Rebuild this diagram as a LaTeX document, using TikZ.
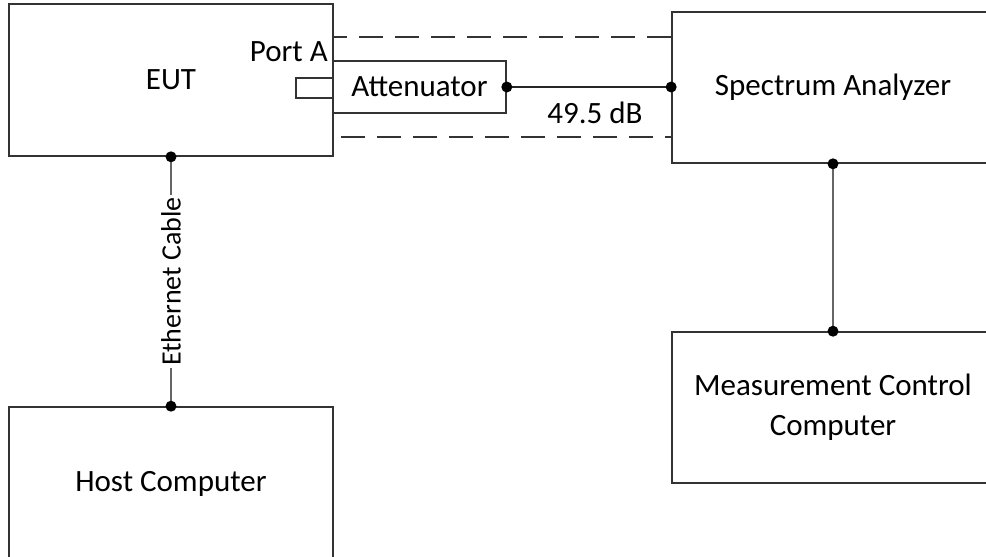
\documentclass[tikz,border=0pt]{standalone}
\usepackage{fontspec}
\setmainfont{Carlito}
\usetikzlibrary{positioning}

\begin{document}
\begin{tikzpicture}[x=1pt, y=-1pt,
		devbox/.style={rectangle, draw=black!80, line width=1.6pt, inner sep=0pt, align=center, font=\fontsize{31}{40}\selectfont},
		frame/.style={draw=black!80, line width=1.6pt},
		wire/.style={draw=black!60, line width=1.6pt},
		shield/.style={draw=black!80, line width=1.6pt, dash pattern=on 24pt off 12pt},
		lbl/.style={inner sep=0pt, font=\fontsize{31}{40}\selectfont}]
			%%%%% START %%%%%
			
			\useasboundingbox (0, 0) rectangle (986, 557);
			
			\node[devbox, minimum width=324, minimum height=152] (eut) at (171, 80) {EUT};
			% bottom runs off the page
			\draw[frame] (9, 557) -- (9, 407) -- (333, 407) -- (333, 557);
			\node[devbox, draw=none, minimum width=324, minimum height=154] (host) at (171, 484) {Host Computer};
			
			% right side runs off the page
			\draw[frame] (986, 12) -- (672, 12) -- (672, 163) -- (986, 163);
			\node[devbox, draw=none, minimum width=322, minimum height=151] (sa) at (833, 87.5) {Spectrum Analyzer};
			\draw[frame] (986, 332) -- (672, 332) -- (672, 483) -- (986, 483);
			\node[devbox, draw=none, minimum width=322, minimum height=151] (mcc) at (833, 407.5) {Measurement Control\\Computer};
			
			\node[devbox, minimum width=37, minimum height=20] (port) at (314.5, 88) {};
			\node[devbox, minimum width=173, minimum height=52] (att) at (419.5, 87) {Attenuator};
			\node[lbl, anchor=base east] (porta) at (328, 61) {Port A};
			
			\draw[shield] (333, 37) rectangle (672, 137);
			
			\draw[wire, draw=black!85] (att.east) -- (att.east -| sa.west) coordinate (sain);
			\fill (att.east) circle (5.5pt);
			\fill (sain) circle (5.5pt);
			\node[lbl, anchor=base] (loss) at (595, 123) {49.5 dB};
			
			\draw[wire] (eut.south) -- node[midway, rotate=90, fill=white, inner sep=2pt, font=\fontsize{28}{32}\selectfont] (eth) {Ethernet Cable} (host.north);
			\fill (eut.south) circle (5.5pt);
			\fill (host.north) circle (5.5pt);
			
			\draw[wire] (sa.south) -- (mcc.north);
			\fill (sa.south) circle (5.5pt);
			\fill (mcc.north) circle (5.5pt);
			
			%%%%% END %%%%%
		\end{tikzpicture}
\end{document}
